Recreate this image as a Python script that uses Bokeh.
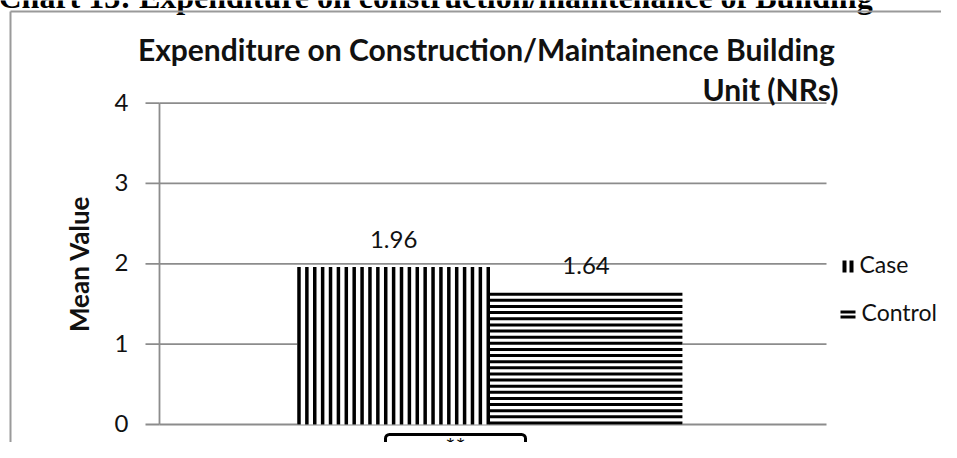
import numpy as np
from bokeh.plotting import figure
from bokeh.models import Range1d, BoxAnnotation, ColumnDataSource
from bokeh.core.properties import value
from bokeh.embed import file_html
from bokeh.resources import INLINE

# ---- data ----
categories = ["Expenditure"]
series = ["Case", "Control"]
case_values = [1.96]
control_values = [1.64]
y_ticks = [0, 1, 2, 3, 4]
y_tick_labels = ["0", "1", "2", "3", "4"]
caption = "Chart 13: Expenditure on construction/maintenance of Building"
title_line1 = "Expenditure  on Construction/Maintainence Building"
title_line2 = "Unit (NRs)"
y_label = "Mean Value"
note = "**"

# ---- layout (pixels inside the figure canvas) ----
W, H = 941, 442
PL, PR = 159, 826      # plot-area left / right edge (px)
PB, PT = 424, 102.6    # plot-area bottom (y=0) / top (y=YMAX) (px)
YMAX = 4
NCAT = len(categories)
SX = (PR - PL) / NCAT  # px per category unit
SY = (PB - PT) / YMAX  # px per y unit

X0 = -0.5 - PL / SX
X1 = NCAT - 0.5 + (W - PR) / SX
Y0 = -(H - PB) / SY
Y1 = YMAX + PT / SY


def ux(fx):
    return X0 + fx / SX


def vy(fy):
    return Y1 - fy / SY


FONT = "Lato"
GRID = "#8c8c8c"
INK = "#111111"
BAR_W = 0.289
OFFSETS = {"Case": -0.149, "Control": 0.1395}

p = figure(width=W, height=H, output_backend="svg", toolbar_location=None,
           x_range=Range1d(X0, X1), y_range=Range1d(Y0, Y1),
           x_axis_location=None, y_axis_location=None,
           min_border=0)
p.outline_line_color = None
p.xgrid.visible = False
p.ygrid.visible = False
p.background_fill_color = "white"
p.border_fill_color = "white"

cat_x = np.arange(NCAT, dtype=float)
cat_left = cat_x[0] - 0.5
cat_right = cat_x[-1] + 0.5

# ---- gridlines, value axis, ticks ----
p.segment(x0=cat_left, x1=cat_right, y0=y_ticks, y1=y_ticks,
          line_color=GRID, line_width=1.8)
p.segment(x0=cat_left - 14 / SX, x1=cat_left, y0=y_ticks, y1=y_ticks,
          line_color=GRID, line_width=1.8)
p.segment(x0=[cat_left], x1=[cat_left], y0=[y_ticks[0]], y1=[y_ticks[-1]],
          line_color=GRID, line_width=1.8)
p.text(x=cat_left - 31 / SX, y=y_ticks, text=y_tick_labels,
       y_offset=-1, text_align="right", text_baseline="middle",
       text_font=value(FONT), text_font_size="24px", text_color=INK)
p.text(x=[ux(78.5)], y=[(y_ticks[0] + y_ticks[-1]) / 2], text=[y_label],
       angle=np.pi / 2, text_align="center", text_baseline="middle",
       text_font=value(FONT), text_font_style="bold", text_font_size="26px",
       text_color=INK)

# ---- bars (white body + line pattern, like the reference's pattern fill) ----
case_x = cat_x + OFFSETS["Case"]
ctrl_x = cat_x + OFFSETS["Control"]
src = ColumnDataSource(dict(case_x=case_x, ctrl_x=ctrl_x,
                            case=case_values, control=control_values,
                            case_lbl=[f"{v:.2f}" for v in case_values],
                            ctrl_lbl=[f"{v:.2f}" for v in control_values]))
p.vbar(x="case_x", top="case", width=BAR_W, source=src,
       fill_color="white", line_color=None)
p.vbar(x="ctrl_x", top="control", width=BAR_W, source=src,
       fill_color="white", line_color=None)

# vertical stripes for Case
sw = 3.5 / SX
stripe_x, stripe_top = [], []
for cx, v in zip(case_x, case_values):
    xs = np.linspace(cx - BAR_W / 2 + sw / 2, cx + BAR_W / 2 - sw / 2, 25)
    stripe_x.extend(xs)
    stripe_top.extend([v] * len(xs))
p.vbar(x=stripe_x, top=stripe_top, bottom=0, width=sw,
       fill_color="black", line_color=None)

# horizontal stripes for Control
sh = 3 / SY
stripe_y, stripe_l, stripe_r = [], [], []
for cx, v in zip(ctrl_x, control_values):
    n = int(round(v * SY / 6.0))
    ys = np.linspace(v - sh / 2, sh / 2, n)
    stripe_y.extend(ys)
    stripe_l.extend([cx - BAR_W / 2] * n)
    stripe_r.extend([cx + BAR_W / 2] * n)
p.hbar(y=stripe_y, left=stripe_l, right=stripe_r, height=sh,
       fill_color="black", line_color=None)

# value labels
p.text(x="case_x", y="case", text="case_lbl", source=src, y_offset=-27.5,
       text_align="center", text_baseline="middle",
       text_font=value(FONT), text_font_size="24px", text_color=INK)
p.text(x="ctrl_x", y="control", text="ctrl_lbl", source=src, y_offset=-27.5,
       text_align="center", text_baseline="middle",
       text_font=value(FONT), text_font_size="24px", text_color=INK)

# ---- legend (pattern swatches + labels) ----
# Case swatch: two vertical strokes
p.vbar(x=[ux(844), ux(851)], width=4 / SX, bottom=vy(272), top=vy(260),
       fill_color="black", line_color=None)
# Control swatch: two horizontal strokes
p.hbar(y=[vy(311.5), vy(316.5)], left=ux(840), right=ux(855), height=3 / SY,
       fill_color="black", line_color=None)
p.text(x=[ux(859), ux(861)], y=[vy(263.5), vy(311.5)], text=series,
       text_align="left", text_baseline="middle",
       text_font=value(FONT), text_font_size="23px", text_color=INK)

# ---- chart title ----
p.text(x=[ux(489.5)], y=[vy(48.5)], text=[title_line1], text_align="center",
       text_baseline="middle", text_font=value(FONT),
       text_font_style="bold", text_font_size="30px", text_color=INK)
p.text(x=[ux(838)], y=[vy(88.5)], text=[title_line2], text_align="right",
       text_baseline="middle", text_font=value(FONT),
       text_font_style="bold", text_font_size="30px", text_color=INK)

# ---- document caption (cut by the top edge, as in the reference) ----
p.text(x=[ux(-2)], y=[vy(-4)], text=[caption], text_align="left",
       text_baseline="alphabetic", text_font=value("Liberation Serif"),
       text_font_style="bold", text_font_size="32px", text_color="black")

# ---- grey chart-area frame (top and left edges) ----
p.segment(x0=[ux(10), ux(10)], y0=[vy(11), vy(11)], x1=[ux(W), ux(10)],
          y1=[vy(11), vy(H)], line_color="#9a9a9a", line_width=2)

# ---- significance text box below the bars ----
p.add_layout(BoxAnnotation(left=ux(385), right=ux(525), top=vy(434),
                           bottom=vy(H + 30), fill_alpha=0,
                           line_color="black", line_alpha=1, line_width=3,
                           border_radius=4))
p.text(x=[ux(455)], y=[vy(445)], text=[note], text_align="center",
       text_baseline="middle", text_font=value(FONT), text_font_size="24px",
       text_color="black")

open("out.html", "w").write(file_html(p, INLINE))
